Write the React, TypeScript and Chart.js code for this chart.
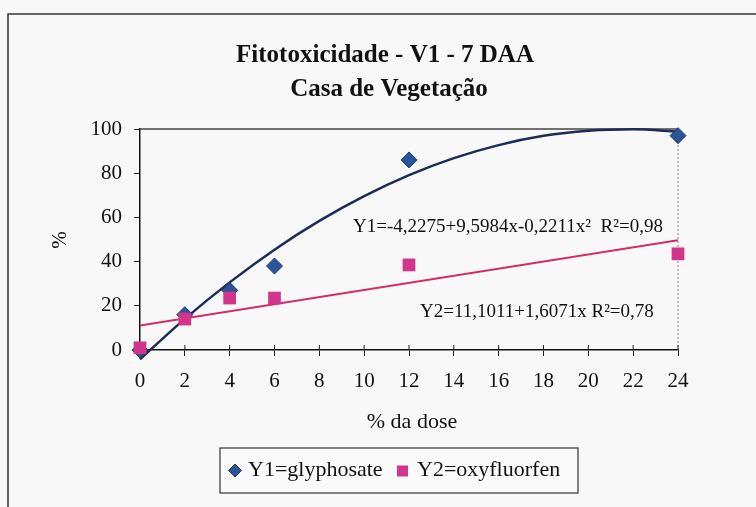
import React, { useEffect, useRef } from "react";
import { Chart, registerables } from "chart.js";

Chart.register(...registerables);

// ---- data ----
const doses = [0, 2, 4, 6, 12, 24];
const glyphosate = [0, 16, 27, 38, 86, 97];
const oxyfluorfen = [1, 14, 23.5, 23.5, 38.5, 43.5];

const fitDoses = [0, 2, 4, 6, 8, 10, 12, 14, 16, 18, 20, 22, 24];
const glyphosateFit = [-4.2, 14.1, 30.6, 45.4, 58.4, 69.6, 79.1, 86.8, 92.7, 96.9, 99.2, 99.9, 98.8];
const oxyfluorfenFitDoses = [0, 24];
const oxyfluorfenFit = [11.1, 49.7];

const xTicks = [0, 2, 4, 6, 8, 10, 12, 14, 16, 18, 20, 22, 24];
const yTicks = [0, 20, 40, 60, 80, 100];

const titleLines = ["Fitotoxicidade - V1 - 7 DAA", "Casa de Vegetação"];
const xTitle = "% da dose";
const yTitle = "%";
const legendLabels = ["Y1=glyphosate", "Y2=oxyfluorfen"];
const equation1 = "Y1=-4,2275+9,5984x-0,2211x²  R²=0,98";
const equation2 = "Y2=11,1011+1,6071x R²=0,78";

const FONT = "'Liberation Serif', 'Times New Roman', serif";
const BLUE = "#2c5597";
const BLUE_EDGE = "#1d3a6e";
const PINK = "#d3358c";
const CURVE = "#1c2c58";
const LINE = "#d22c6c";

const decor = {
  id: "decor",
  beforeDraw(chart: any) {
    const { ctx, width, height } = chart;
    ctx.save();
    ctx.fillStyle = "#f8f8f8";
    ctx.fillRect(0, 0, width, height);
    ctx.restore();
  },
  beforeDatasetsDraw(chart: any) {
    const { ctx, chartArea: a, scales } = chart;
    ctx.save();
    ctx.strokeStyle = "#444";
    ctx.lineWidth = 1.5;
    ctx.beginPath();
    ctx.moveTo(a.left, a.top);
    ctx.lineTo(a.right, a.top);
    ctx.stroke();
    ctx.strokeStyle = "#888";
    ctx.lineWidth = 1;
    ctx.setLineDash([2, 2]);
    ctx.beginPath();
    ctx.moveTo(a.right, a.top);
    ctx.lineTo(a.right, a.bottom);
    ctx.stroke();
    ctx.setLineDash([]);
    ctx.strokeStyle = "#222";
    ctx.lineWidth = 1;
    xTicks.forEach((v) => {
      const x = scales.x.getPixelForValue(v);
      ctx.beginPath();
      ctx.moveTo(x, a.bottom);
      ctx.lineTo(x, a.bottom - 5);
      ctx.stroke();
    });
    ctx.restore();
  },
  afterDraw(chart: any) {
    const { ctx } = chart;
    ctx.save();
    ctx.strokeStyle = "#333";
    ctx.lineWidth = 1.5;
    ctx.beginPath();
    ctx.moveTo(8, chart.height);
    ctx.lineTo(8, 14);
    ctx.lineTo(chart.width, 14);
    ctx.stroke();

    ctx.fillStyle = "#111";
    ctx.textAlign = "center";
    ctx.textBaseline = "middle";
    ctx.font = `bold 25px ${FONT}`;
    ctx.fillText(titleLines[0], 385, 56);
    ctx.fillText(titleLines[1], 389, 90);
    ctx.font = `22px ${FONT}`;
    ctx.fillText(xTitle, 412, 422);
    ctx.save();
    ctx.translate(60, 240);
    ctx.rotate(-Math.PI / 2);
    ctx.font = `21px ${FONT}`;
    ctx.fillText(yTitle, 0, 0);
    ctx.restore();
    ctx.textAlign = "left";
    ctx.font = `19px ${FONT}`;
    ctx.fillText(equation1, 353, 227);
    ctx.fillText(equation2, 420, 312);

    const lx = 220, ly = 448, lw = 358, lh = 45;
    ctx.fillStyle = "#fafafa";
    ctx.fillRect(lx, ly, lw, lh);
    ctx.strokeStyle = "#333";
    ctx.lineWidth = 1.2;
    ctx.strokeRect(lx, ly, lw, lh);
    const cy = ly + lh / 2;
    ctx.fillStyle = BLUE;
    ctx.strokeStyle = BLUE_EDGE;
    ctx.lineWidth = 1;
    ctx.beginPath();
    ctx.moveTo(235, cy - 6.5);
    ctx.lineTo(241.5, cy);
    ctx.lineTo(235, cy + 6.5);
    ctx.lineTo(228.5, cy);
    ctx.closePath();
    ctx.fill();
    ctx.stroke();
    ctx.fillStyle = PINK;
    ctx.fillRect(397, cy - 5, 11, 11);
    ctx.fillStyle = "#111";
    ctx.font = `22px ${FONT}`;
    ctx.fillText(legendLabels[0], 248, cy);
    ctx.fillText(legendLabels[1], 417, cy);
    ctx.restore();
  },
};

export default function App() {
  const ref = useRef<HTMLCanvasElement | null>(null);
  useEffect(() => {
    if (!ref.current) return;
    const chart = new Chart(ref.current, {
      type: "scatter",
      data: {
        datasets: [
          {
            label: legendLabels[0],
            data: doses.map((d, i) => ({ x: d, y: glyphosate[i] })),
            pointStyle: "rectRot",
            pointRadius: 8,
            backgroundColor: BLUE,
            borderColor: BLUE_EDGE,
            borderWidth: 1,
            clip: false as any,
            order: 1,
          } as any,
          {
            label: legendLabels[1],
            data: doses.map((d, i) => ({ x: d, y: oxyfluorfen[i] })),
            pointStyle: "rect",
            pointRadius: 9,
            backgroundColor: PINK,
            borderColor: PINK,
            borderWidth: 0,
            clip: false as any,
            order: 0,
          } as any,
          {
            type: "line",
            label: "Y1 fit",
            data: fitDoses.map((d, i) => ({ x: d, y: glyphosateFit[i] })),
            borderColor: CURVE,
            borderWidth: 2.5,
            pointRadius: 0,
            cubicInterpolationMode: "monotone",
            fill: false,
            clip: false as any,
            order: 3,
          } as any,
          {
            type: "line",
            label: "Y2 fit",
            data: oxyfluorfenFitDoses.map((d, i) => ({ x: d, y: oxyfluorfenFit[i] })),
            borderColor: LINE,
            borderWidth: 2,
            pointRadius: 0,
            fill: false,
            order: 2,
          } as any,
        ],
      },
      options: {
        animation: false,
        responsive: false,
        layout: { padding: { top: 129, left: 40, right: 78, bottom: 67 } },
        plugins: {
          legend: { display: false },
          title: { display: false },
          tooltip: { enabled: false },
        },
        scales: {
          x: {
            type: "linear",
            min: 0,
            max: 24,
            afterFit: (s: any) => { s.height = 90; },
            afterBuildTicks: (s: any) => { s.ticks = xTicks.map((v) => ({ value: v })); },
            grid: { drawOnChartArea: false, tickLength: 6, color: "#222" },
            border: { color: "#111", width: 1.5 },
            ticks: { color: "#111", font: { family: FONT, size: 21 }, padding: 13, maxRotation: 0 },
          },
          y: {
            type: "linear",
            min: 0,
            max: 100,
            afterFit: (s: any) => { s.width = 100; },
            afterBuildTicks: (s: any) => { s.ticks = yTicks.map((v) => ({ value: v })); },
            grid: { drawOnChartArea: false, tickLength: 6, color: "#222" },
            border: { color: "#111", width: 1.5 },
            ticks: { color: "#111", font: { family: FONT, size: 21 }, padding: 12 },
          },
        },
      },
      plugins: [decor],
    });
    return () => chart.destroy();
  }, []);
  return (
    <div style={{ position: "fixed", left: 0, top: 0, width: 756, height: 507 }}>
      <canvas ref={ref} width={756} height={507} style={{ width: 756, height: 507, display: "block" }} />
    </div>
  );
}
